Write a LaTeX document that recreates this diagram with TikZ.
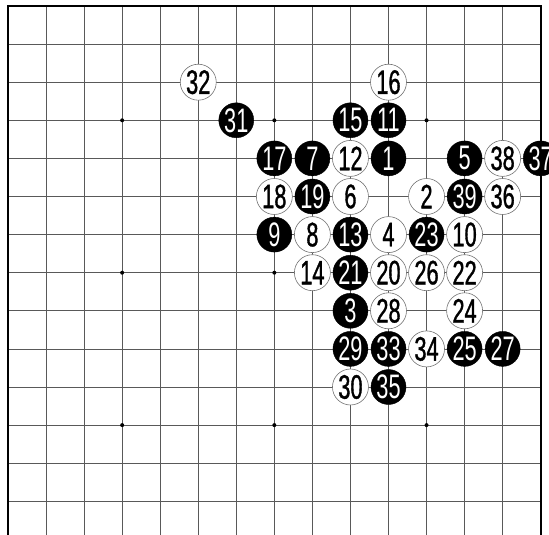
\documentclass[tikz,border=0pt]{standalone}
\usepackage{fontspec}
\newfontfamily\stonefont[FakeStretch=0.64]{Liberation Sans}
\newfontfamily\wstonefont[FakeStretch=0.64,FakeBold=1]{Liberation Sans}
\begin{document}
\begin{tikzpicture}[x=1pt,y=1pt,
  gridline/.style={draw=black!65, line width=0.8pt},
  border/.style={draw=black, line width=2pt},
  wstone/.style={circle, draw=black!55, line width=0.6pt, fill=white, minimum size=36pt, inner sep=0pt, font=\wstonefont\fontsize{34}{34}\selectfont},
  bstone/.style={circle, draw=black, fill=black, text=white, minimum size=35pt, inner sep=0pt, font=\stonefont\fontsize{34}{34}\selectfont},
  hoshi/.style={fill=black}]
\useasboundingbox (0,0) rectangle (549,-535);
\clip (0,0) rectangle (549,-535);
\fill[white] (0,0) rectangle (549,-535);
\begin{scope}[shift={(8pt,-6pt)}, x=38.05pt, y=-38.1pt]
  % grid
  \foreach \c in {1,...,13} \draw[gridline] (\c,0) -- (\c,14.2);
  \foreach \r in {1,...,13} \draw[gridline] (0,\r) -- (14,\r);
  \draw[border] (0,14.2) -- (0,0) -- (14,0) -- (14,14.2);
  \foreach \c in {3,7,11} \foreach \r in {3,7,11} \fill[hoshi] (\c,\r) circle (2pt);
  % white stones
  \foreach \c/\r/\n in {5/2/32, 10/2/16, 9/4/12, 13/4/38, 7/5/18, 9/5/6, 11/5/2, 13/5/36,
      8/6/8, 10/6/4, 12/6/10, 8/7/14, 10/7/20, 11/7/26, 12/7/22, 10/8/28, 12/8/24,
      11/9/34, 9/10/30}
    \node[wstone] (s\n) at (\c,\r) {\n};
  % black stones
  \foreach \c/\r/\n in {6/3/31, 9/3/15, 10/3/11, 7/4/17, 8/4/7, 10/4/1, 12/4/5, 14/4/37,
      8/5/19, 12/5/39, 7/6/9, 9/6/13, 11/6/23, 9/7/21, 9/8/3, 9/9/29, 10/9/33,
      12/9/25, 13/9/27, 10/10/35}
    \node[bstone] (s\n) at (\c,\r) {\n};
\end{scope}
\end{tikzpicture}
\end{document}
